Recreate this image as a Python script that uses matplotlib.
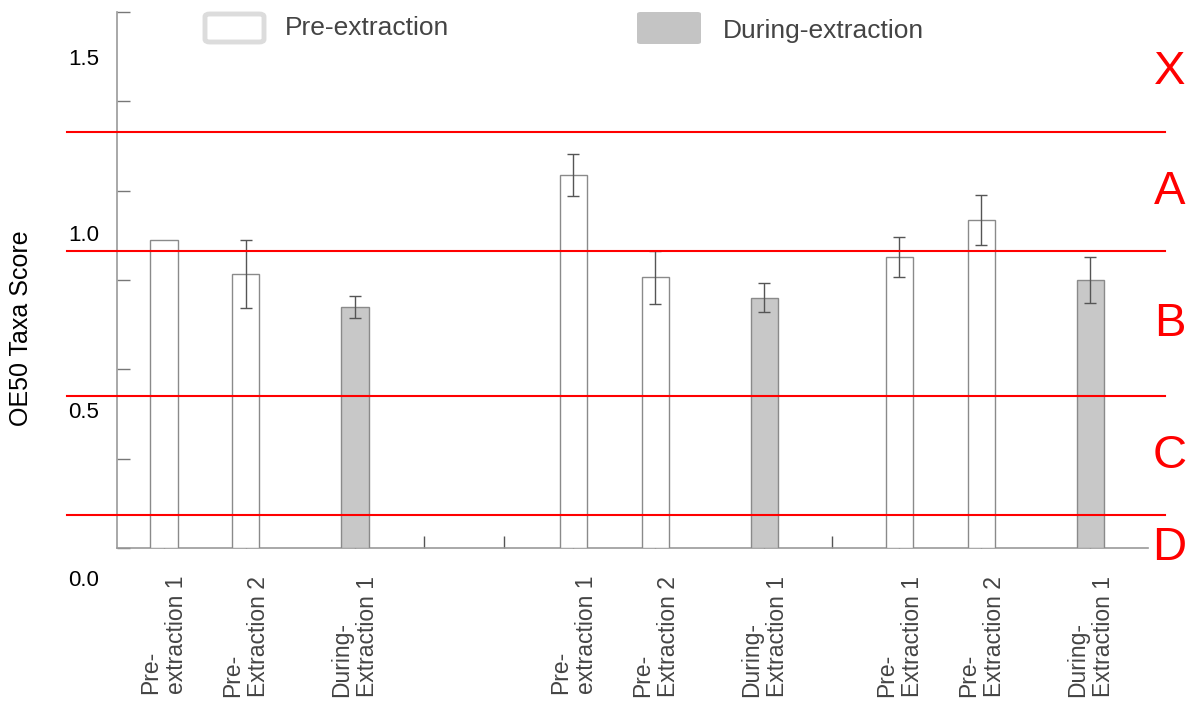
import matplotlib
matplotlib.use("Agg")
import matplotlib.pyplot as plt
import matplotlib.transforms as mtransforms
from matplotlib.patches import FancyBboxPatch

plt.rcParams['font.family'] = ['Liberation Sans', 'DejaVu Sans']

# Dados
bar_labels = ["Pre-\nextraction 1", "Pre-\nExtraction 2", "During-\nExtraction 1",
              "Pre-\nextraction 1", "Pre-\nExtraction 2", "During-\nExtraction 1",
              "Pre-\nExtraction 1", "Pre-\nExtraction 2", "During-\nExtraction 1"]
scores = [0.862, 0.767, 0.674, 1.044, 0.758, 0.700, 0.814, 0.918, 0.750]
errors = [0.0, 0.095, 0.031, 0.059, 0.074, 0.041, 0.057, 0.070, 0.064]
phases = ["Pre", "Pre", "During", "Pre", "Pre", "During", "Pre", "Pre", "During"]
class_bounds = [1.164, 0.831, 0.425, 0.092]
class_letters = ["X", "A", "B", "C", "D"]

# Layout (em larguras de barra)
group_starts = [1.72, 16.73, 28.68]
in_group = [0, 3, 7]
gap_slots = [11.25, 14.2, 26.2]
bar_x = [g + o for g in group_starts for o in in_group]

fill = {"Pre": "white", "During": "#c8c8c8"}

fig = plt.figure(figsize=(11.93, 7.01), dpi=100)
ax = fig.add_axes([0.0981, 0.2183, 0.8642, 0.7646])

ax.bar(bar_x, scores, width=1.0, color=[fill[p] for p in phases],
       edgecolor="#8a8a8a", linewidth=1.0, zorder=3)
err_x = [x for x, e in zip(bar_x, errors) if e > 0]
err_y = [s for s, e in zip(scores, errors) if e > 0]
err_v = [e for e in errors if e > 0]
ax.errorbar(err_x, err_y, yerr=err_v, fmt="none", ecolor="#555555",
            elinewidth=1.0, capsize=4.5, capthick=1.0, zorder=4)

# Linhas de classe
for b in class_bounds:
    ax.axhline(b, xmin=-0.049, xmax=1.0165, color="red", linewidth=1.5,
               clip_on=False, zorder=5)

# Letras das classes
edges = [1.5] + class_bounds + [-0.09]
trans = mtransforms.blended_transform_factory(ax.transAxes, ax.transData)
for i, letter in enumerate(class_letters):
    ymid = (edges[i] + edges[i + 1]) / 2
    ax.text(1.021, ymid, letter, transform=trans, color="red", fontsize=34,
            ha="center", va="center", clip_on=False)

ax.set_xlim(0, 37.79)
ax.set_ylim(0, 1.5)

# Eixo x
all_x = bar_x + gap_slots
all_lab = bar_labels + [""] * len(gap_slots)
ax.set_xticks(all_x)
ax.set_xticklabels(all_lab, rotation=90, fontsize=16.5, color="#444444",
                   va="top", ha="center", multialignment="left", linespacing=1.15)
ax.tick_params(axis="x", direction="in", length=9, width=1.0, color="#555555", pad=20)

# Eixo y
ax.set_yticks([0, 0.5, 1.0, 1.5])
ax.set_yticklabels(["0.0", "0.5", "1.0", "1.5"], fontsize=16)
ax.set_yticks([0.25, 0.75, 1.25], minor=True)
ax.tick_params(axis="y", which="both", direction="in", length=9, width=1.0,
               color="#777777", pad=13)
shifts = [-30, -41, -42, -45]
for lab, s in zip(ax.get_yticklabels(), shifts):
    lab.set_transform(lab.get_transform() +
                      mtransforms.ScaledTranslation(0, s / 100, fig.dpi_scale_trans))

ax.set_ylabel("OE50 Taxa Score", fontsize=18)
ax.yaxis.set_label_coords(-0.0815, 0.41)

for side in ["top", "right"]:
    ax.spines[side].set_visible(False)
for side in ["left", "bottom"]:
    ax.spines[side].set_color("#999999")
    ax.spines[side].set_linewidth(1.2)

# Legenda manual
W, H = 1193, 701
fig.patches.append(FancyBboxPatch((205 / W, (H - 42) / H), 59 / W, 28 / H,
                                  boxstyle="round,pad=0,rounding_size=0.004",
                                  transform=fig.transFigure, facecolor="white",
                                  edgecolor="#dcdcdc", linewidth=3.5))
fig.patches.append(FancyBboxPatch((637 / W, (H - 44) / H), 64 / W, 32 / H,
                                  boxstyle="round,pad=0,rounding_size=0.003",
                                  transform=fig.transFigure, facecolor="#c4c4c4",
                                  edgecolor="none"))
fig.text(285 / W, (H - 28) / H, "Pre-extraction", fontsize=19, color="#444444",
         va="center", ha="left")
fig.text(723 / W, (H - 31) / H, "During-extraction", fontsize=19, color="#444444",
         va="center", ha="left")

fig.savefig("out.png", dpi=100)
